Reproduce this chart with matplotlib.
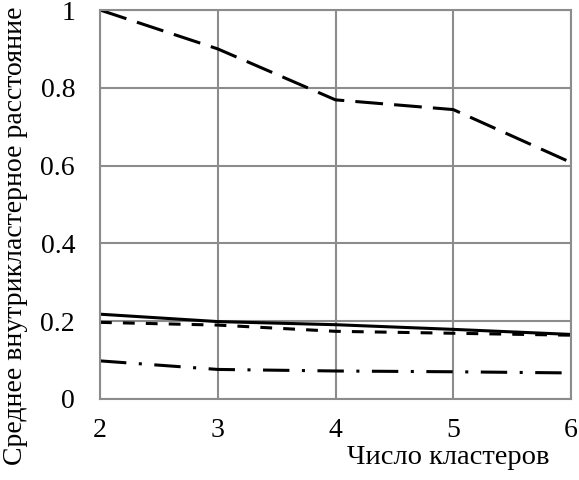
import matplotlib
matplotlib.use("Agg")
import matplotlib.pyplot as plt

# Data
clusters = [2, 3, 4, 5, 6]
long_dash = [1.0, 0.90, 0.769, 0.744, 0.608]
solid = [0.218, 0.199, 0.191, 0.179, 0.166]
short_dash = [0.197, 0.190, 0.174, 0.169, 0.164]
dash_dot = [0.098, 0.076, 0.072, 0.070, 0.067]

xticks = [2, 3, 4, 5, 6]
yticks = [0, 0.2, 0.4, 0.6, 0.8, 1]
ytick_labels = ["0", "0.2", "0.4", "0.6", "0.8", "1"]

plt.rcParams["font.family"] = ["Liberation Serif", "DejaVu Serif"]
plt.rcParams["lines.scale_dashes"] = False

fig = plt.figure(figsize=(5.79, 4.8), dpi=100)
ax = fig.add_axes([100 / 579, 1 - 399 / 480, 471 / 579, 389 / 480])

ax.plot(clusters, long_dash, color="black", lw=2.2, dashes=(20, 8))
ax.plot(clusters, solid, color="black", lw=2.2)
ax.plot(clusters, short_dash, color="black", lw=2.2, dashes=(8.5, 8))
ax.plot(clusters, dash_dot, color="black", lw=2.2, dashes=(19, 9, 2.2, 9))

ax.set_xlim(2, 6)
ax.set_ylim(0, 1)
ax.set_xticks(xticks)
ax.set_yticks(yticks)
ax.set_yticklabels(ytick_labels)
ax.grid(True, color="#8c8c8c", lw=1.5)
ax.set_axisbelow(True)
for s in ax.spines.values():
    s.set_color("#8c8c8c")
    s.set_linewidth(1.5)
ax.tick_params(axis="x", length=0, labelsize=20, pad=14)
ax.tick_params(axis="y", length=0, labelsize=20, pad=18)

fig.text(448 / 579, 1 - 458 / 480, "Число кластеров", fontsize=20.5,
         ha="center", va="center")
fig.text(16 / 579, 1 - 236 / 480, "Среднее внутрикластерное расстояние",
         fontsize=20, rotation=90, ha="center", va="center")

fig.savefig("out.png")
